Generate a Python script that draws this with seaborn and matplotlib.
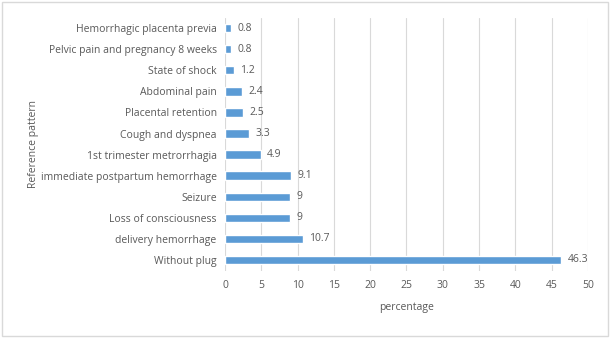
import matplotlib
matplotlib.use("Agg")
import matplotlib.pyplot as plt
import seaborn as sns
import pandas as pd
from matplotlib.patches import Rectangle

categories = [
    "Hemorrhagic placenta previa",
    "Pelvic pain and pregnancy 8 weeks",
    "State of shock",
    "Abdominal pain",
    "Placental retention",
    "Cough and dyspnea",
    "1st trimester metrorrhagia",
    "immediate postpartum hemorrhage",
    "Seizure",
    "Loss of consciousness",
    "delivery hemorrhage",
    "Without plug",
]
values = [0.8, 0.8, 1.2, 2.4, 2.5, 3.3, 4.9, 9.1, 9, 9, 10.7, 46.3]
value_labels = ["0.8", "0.8", "1.2", "2.4", "2.5", "3.3", "4.9", "9.1", "9", "9", "10.7", "46.3"]
x_ticks = [0, 5, 10, 15, 20, 25, 30, 35, 40, 45, 50]

df = pd.DataFrame({"pattern": categories, "pct": values})

sns.set_style("white")
plt.rcParams["font.family"] = ["Open Sans", "DejaVu Sans"]
text_color = "#595959"

fig = plt.figure(figsize=(6.12, 3.38), dpi=100)
ax = fig.add_axes([0.3676, 0.1997, 0.5932, 0.7483])

sns.barplot(data=df, y="pattern", x="pct", orient="h", color="#5B9BD5",
            saturation=1, width=0.4, ax=ax, zorder=3)

ax.set_xlim(0, 50)
ax.set_ylim(len(categories) - 0.5, -0.5)
ax.set_xticks(x_ticks)
ax.set_xticklabels([str(t) for t in x_ticks], fontsize=7.5, color=text_color)
ax.tick_params(axis="y", labelsize=7.5, labelcolor=text_color, length=0, pad=6)
ax.tick_params(axis="x", length=0, pad=7)
ax.grid(axis="x", color="#D9D9D9", linewidth=0.8, zorder=0)
for s in ax.spines.values():
    s.set_visible(False)

for i, (v, lab) in enumerate(zip(values, value_labels)):
    ax.text(v + 0.9, i, lab, va="center", ha="left", fontsize=7.5, color=text_color)

ax.set_xlabel("percentage", fontsize=7.5, color=text_color, labelpad=8)
ax.set_ylabel("Reference pattern", fontsize=7.5, color=text_color, labelpad=1)

fig.patches.append(Rectangle((0.004, 0.006), 0.99, 0.988, transform=fig.transFigure,
                             fill=False, edgecolor="#D9D9D9", linewidth=1))

fig.savefig("out.png", dpi=100, facecolor="white")
